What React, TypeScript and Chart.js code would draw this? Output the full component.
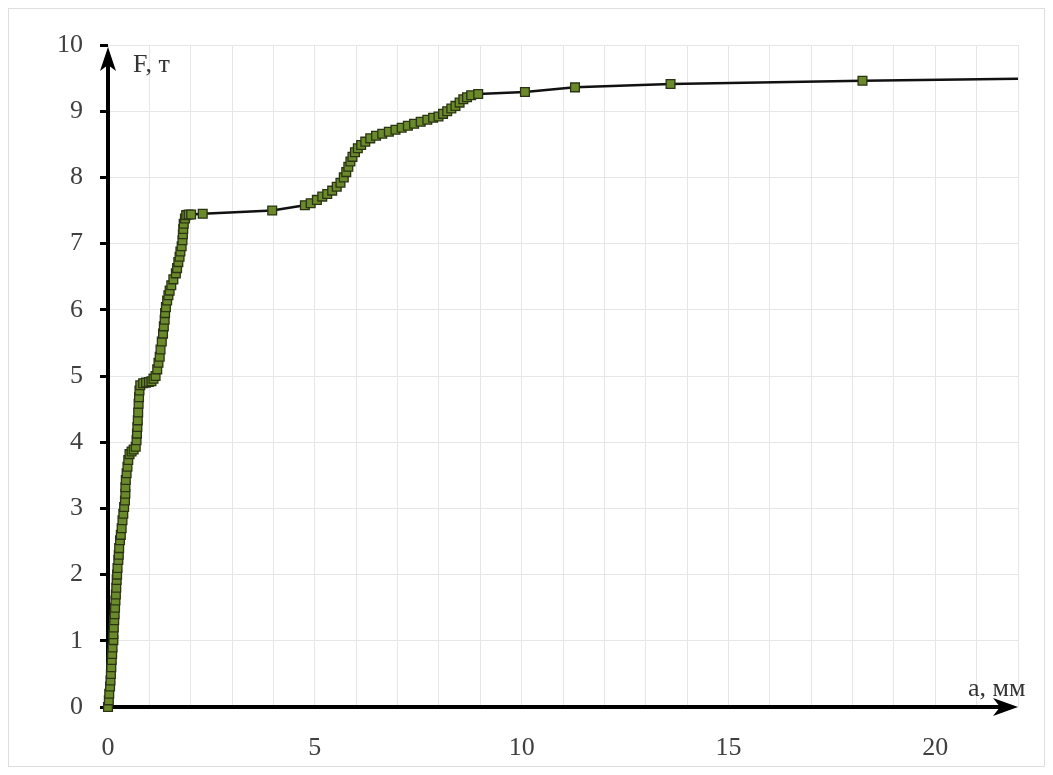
import React, { useEffect, useRef } from "react";
import { Chart, registerables } from "chart.js";

Chart.register(...registerables);

// displacement a, mm
const displacementMm: number[] = [
  0.0, 0.02, 0.03, 0.05, 0.06, 0.07, 0.08, 0.09, 0.1, 0.11, 0.13, 0.13, 0.14, 0.15, 0.16, 0.17,
  0.18, 0.19, 0.2, 0.21, 0.22, 0.23, 0.25, 0.26, 0.27, 0.29, 0.31, 0.33, 0.35, 0.37, 0.39, 0.41,
  0.42, 0.42, 0.43, 0.45, 0.47, 0.49, 0.52, 0.57, 0.62, 0.67, 0.69, 0.7, 0.71, 0.72, 0.73, 0.74,
  0.75, 0.76, 0.78, 0.85, 0.92, 0.99, 1.05, 1.1, 1.15, 1.19, 1.22, 1.25, 1.27, 1.3, 1.33, 1.35,
  1.37, 1.38, 1.4, 1.43, 1.46, 1.49, 1.53, 1.58, 1.64, 1.67, 1.7, 1.73, 1.75, 1.78, 1.8, 1.81,
  1.82, 1.83, 1.86, 1.89, 1.95, 2.01, 2.29, 3.97, 4.76, 4.9, 5.05, 5.18, 5.3, 5.42, 5.53, 5.62,
  5.7, 5.76, 5.81, 5.86, 5.91, 5.97, 6.04, 6.12, 6.22, 6.34, 6.48, 6.63, 6.79, 6.95, 7.1, 7.25,
  7.4, 7.56, 7.72, 7.86, 7.99, 8.1, 8.2, 8.3, 8.4, 8.5, 8.59, 8.68, 8.78, 8.95, 10.08, 11.29,
  13.6, 18.24, 22.0,
];

// force F, t
const forceT: number[] = [
  0.0, 0.1, 0.2, 0.31, 0.4, 0.5, 0.6, 0.71, 0.8, 0.9, 1.01, 1.1, 1.2, 1.31, 1.4, 1.5,
  1.61, 1.7, 1.8, 1.92, 2.0, 2.1, 2.22, 2.3, 2.4, 2.52, 2.6, 2.7, 2.82, 2.92, 3.02, 3.12,
  3.22, 3.32, 3.43, 3.53, 3.63, 3.73, 3.82, 3.86, 3.89, 3.93, 4.03, 4.13, 4.23, 4.33, 4.45, 4.58,
  4.68, 4.78, 4.86, 4.89, 4.9, 4.91, 4.92, 4.96, 5.0, 5.1, 5.2, 5.29, 5.4, 5.52, 5.64, 5.75,
  5.85, 5.95, 6.04, 6.14, 6.22, 6.29, 6.37, 6.46, 6.55, 6.63, 6.72, 6.8, 6.88, 6.96, 7.05, 7.14,
  7.22, 7.3, 7.38, 7.43, 7.44, 7.44, 7.45, 7.5, 7.58, 7.61, 7.66, 7.71, 7.75, 7.8, 7.86, 7.92,
  8.0, 8.08, 8.16, 8.24, 8.31, 8.38, 8.44, 8.49, 8.54, 8.59, 8.63, 8.66, 8.69, 8.72, 8.75, 8.78,
  8.81, 8.84, 8.87, 8.9, 8.92, 8.96, 9.0, 9.04, 9.08, 9.13, 9.18, 9.21, 9.24, 9.26, 9.29, 9.36,
  9.41, 9.46, 9.49,
];

const xLabeledTicks: number[] = [0, 5, 10, 15, 20];
const yAxisTitle = "F, т";
const xAxisTitle = "a, мм";

const SERIF = '"Liberation Serif", "Times New Roman", serif';

const axesPlugin = {
  id: "axesArrows",
  beforeDatasetsDraw(chart: any) {
    const { ctx, chartArea } = chart;
    const { left, right, top, bottom } = chartArea;
    ctx.save();
    ctx.strokeStyle = "#000";
    ctx.fillStyle = "#000";
    ctx.lineWidth = 4;
    ctx.lineCap = "butt";
    // y axis
    ctx.beginPath();
    ctx.moveTo(left, bottom + 2);
    ctx.lineTo(left, top + 16);
    ctx.stroke();
    ctx.beginPath();
    ctx.moveTo(left, top + 2);
    ctx.lineTo(left + 8, top + 26);
    ctx.lineTo(left, top + 20);
    ctx.lineTo(left - 8, top + 26);
    ctx.closePath();
    ctx.fill();
    // x axis
    ctx.beginPath();
    ctx.moveTo(left - 2, bottom);
    ctx.lineTo(right - 14, bottom);
    ctx.stroke();
    ctx.beginPath();
    ctx.moveTo(right, bottom);
    ctx.lineTo(right - 25, bottom - 9);
    ctx.lineTo(right - 18, bottom);
    ctx.lineTo(right - 25, bottom + 9);
    ctx.closePath();
    ctx.fill();
    ctx.restore();
  },
  afterDraw(chart: any) {
    const { ctx, chartArea } = chart;
    const { left, right, top, bottom } = chartArea;
    ctx.save();
    ctx.fillStyle = "#333";
    ctx.font = `26px ${SERIF}`;
    ctx.textAlign = "left";
    ctx.textBaseline = "middle";
    ctx.fillText(yAxisTitle, left + 25, top + 20);
    ctx.fillText(xAxisTitle, right - 50, bottom - 18);
    ctx.restore();
  },
};

export default function App() {
  const canvasRef = useRef<HTMLCanvasElement | null>(null);

  useEffect(() => {
    if (!canvasRef.current) return;
    const points = displacementMm.map((x, i) => ({ x, y: forceT[i] }));
    const last = points.length - 1;
    const chart = new Chart(canvasRef.current, {
      type: "line",
      data: {
        datasets: [
          {
            data: points,
            borderColor: "#111",
            borderWidth: 2.5,
            tension: 0,
            clip: false as any,
            pointStyle: "rect",
            pointRadius: (c: any) => (c.dataIndex === last ? 0 : 6.2),
            pointBackgroundColor: "#6b8a2b",
            pointBorderColor: "#2a3412",
            pointBorderWidth: 1.3,
          },
        ],
      },
      options: {
        animation: false,
        responsive: true,
        maintainAspectRatio: false,
        layout: { padding: { top: 36, right: 22, left: 0, bottom: 0 } },
        plugins: { legend: { display: false }, tooltip: { enabled: false } },
        scales: {
          x: {
            type: "linear",
            min: 0,
            max: 22,
            afterFit: (s: any) => {
              s.height = 59;
            },
            border: { display: false },
            grid: { color: "#e6e6e6", lineWidth: 1, drawTicks: false },
            ticks: {
              stepSize: 1,
              autoSkip: false,
              maxRotation: 0,
              padding: 26,
              color: "#404040",
              font: { family: SERIF, size: 26 },
              callback: (v: any) => (xLabeledTicks.includes(Number(v)) ? String(v) : ""),
            },
          },
          y: {
            type: "linear",
            min: 0,
            max: 10,
            afterFit: (s: any) => {
              s.width = 99;
            },
            border: { display: false },
            grid: { color: "#e6e6e6", lineWidth: 1, tickColor: "#000", tickLength: 8, tickWidth: 3 },
            ticks: {
              stepSize: 1,
              padding: 17,
              color: "#404040",
              font: { family: SERIF, size: 26 },
            },
          },
        },
      },
      plugins: [axesPlugin],
    });
    return () => chart.destroy();
  }, []);

  return (
    <div
      style={{
        width: 1037,
        height: 759,
        border: "1px solid #dedede",
        boxSizing: "border-box",
        position: "relative",
      }}
    >
      <canvas ref={canvasRef} />
    </div>
  );
}
